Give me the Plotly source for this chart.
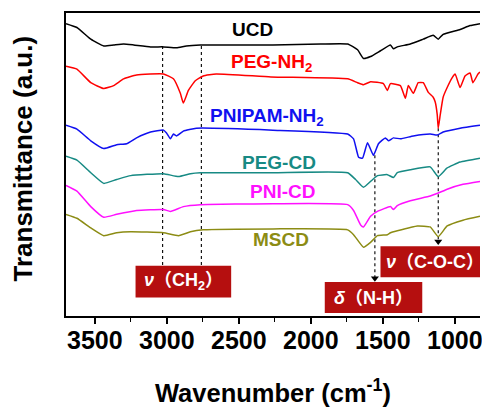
import plotly.graph_objects as go

# ---- data (wavenumber, transmittance a.u.) ----
ucd_wn = [3700, 3624, 3528, 3438, 3369, 3300, 3230, 3113, 3023, 2933, 2864, 2767, 2263, 1931, 1744, 1675,
          1634, 1585, 1516, 1447, 1426, 1399, 1309, 1219, 1150, 1115, 1081, 963, 894, 825]
ucd_t = [302, 298, 286, 279, 280, 281, 280, 278, 278, 277, 279, 280, 280, 281, 281, 275,
         266, 268, 274, 280, 276, 278, 281, 286, 290, 286, 291, 296, 300, 302]

peg_wn = [3700, 3624, 3528, 3438, 3369, 3300, 3210, 3023, 2954, 2906, 2885, 2850, 2802, 2747, 2657, 2277,
          1744, 1675, 1634, 1585, 1496, 1468, 1447, 1378, 1343, 1323, 1288, 1254, 1219, 1184, 1150,
          1136, 1122, 1115, 1101, 1081, 1053, 1019, 998, 963, 929, 894, 874, 839, 825]
peg_t = [258, 255, 241, 235, 238, 245, 249, 250, 245, 230, 220, 233, 243, 248, 250, 247,
         245, 241, 239, 242, 240, 233, 240, 238, 225, 238, 230, 241, 241, 231, 226,
         221, 208, 194, 208, 226, 236, 246, 250, 236, 248, 251, 241, 250, 252]

pni_wn = [3700, 3624, 3528, 3438, 3348, 3279, 3210, 3113, 3023, 3002, 2975, 2954, 2933, 2885, 2795, 2263,
          1744, 1703, 1668, 1641, 1606, 1565, 1530, 1482, 1461, 1426, 1378, 1288, 1171, 1122, 1081, 963, 825]
pni_t = [197, 193, 181, 173, 177, 178, 184, 190, 192, 189, 183, 188, 186, 191, 194, 192,
         188, 183, 164, 163, 179, 166, 178, 184, 181, 184, 183, 186, 188, 187, 190, 194, 197]

pegcd_wn = [3700, 3624, 3528, 3438, 3348, 3251, 3023, 2919, 2836, 2767, 2263, 1744, 1689, 1634, 1585, 1537,
            1468, 1426, 1399, 1309, 1171, 1115, 1053, 963, 825]
pegcd_t = [165, 161, 148, 137, 141, 145, 147, 144, 147, 148, 148, 148, 141, 133, 139, 145,
           146, 143, 148, 151, 154, 144, 153, 159, 163]

pnicd_wn = [3700, 3624, 3528, 3438, 3348, 3210, 3023, 2975, 2885, 2767, 2263, 1744, 1703, 1654, 1634, 1585,
            1537, 1447, 1426, 1399, 1309, 1171, 1115, 1053, 943, 825]
pnicd_t = [135, 129, 113, 102, 105, 109, 110, 108, 113, 115, 116, 115, 109, 94, 92, 103,
           108, 113, 110, 114, 119, 124, 127, 131, 136, 139]

mscd_wn = [3700, 3624, 3528, 3438, 3348, 3251, 3023, 2919, 2836, 2747, 2263, 1744, 1703, 1634, 1585, 1537,
           1468, 1447, 1399, 1260, 1171, 1115, 1053, 943, 825]
mscd_t = [105, 101, 91, 83, 86, 87, 86, 83, 87, 89, 90, 89, 84, 71, 76, 83,
          84, 86, 88, 93, 92, 82, 93, 99, 103]

series_names = ["UCD", "PEG-NH<sub>2</sub>", "PNIPAM-NH<sub>2</sub>", "PEG-CD", "PNI-CD", "MSCD"]
series_colors = ["#000000", "#FF0000", "#1010F0", "#178A84", "#FF10FF", "#8C8C14"]
series_x = [ucd_wn, peg_wn, pni_wn, pegcd_wn, pnicd_wn, mscd_wn]
series_y = [ucd_t, peg_t, pni_t, pegcd_t, pnicd_t, mscd_t]
label_x = [2408, 2270, 2304, 2221, 2200, 2207]
label_y = [296, 261, 206, 159, 129, 79]

x_ticks = [3500, 3000, 2500, 2000, 1500, 1000]

# marker bands
ch2_lines = [3029, 2760]
nh_line = 1555
coc_line = 1115

BOX = "#B50F0F"
FONT = "Liberation Sans, Arial, Noto Sans CJK SC"

fig = go.Figure()

# dotted guide lines
for xv in ch2_lines:
    fig.add_trace(go.Scatter(x=[xv, xv], y=[279, 52], mode="lines",
                             line=dict(color="black", width=1.1, dash="dot"), showlegend=False, hoverinfo="skip"))
fig.add_trace(go.Scatter(x=[nh_line, nh_line], y=[166, 38], mode="lines",
                         line=dict(color="black", width=1.1, dash="dot"), showlegend=False, hoverinfo="skip"))
fig.add_trace(go.Scatter(x=[coc_line, coc_line], y=[194, 76], mode="lines",
                         line=dict(color="black", width=1.1, dash="dot"), showlegend=False, hoverinfo="skip"))
fig.add_trace(go.Scatter(x=[nh_line, coc_line], y=[39, 77], mode="markers",
                         marker=dict(symbol="triangle-down", size=7, color="black"),
                         showlegend=False, hoverinfo="skip"))

for xs, ys, c in zip(series_x, series_y, series_colors):
    fig.add_trace(go.Scatter(x=xs, y=ys, mode="lines", line=dict(color=c, width=1.5, shape="spline", smoothing=0.4),
                             showlegend=False))

for name, c, lx, ly in zip(series_names, series_colors, label_x, label_y):
    fig.add_annotation(x=lx, y=ly, text=name, showarrow=False,
                       font=dict(family=FONT, size=19, color=c, weight="bold"))

# red label boxes
boxes = [
    (3217, 2553, 19, 52),
    (1903, 1226, 3, 35),
    (1516, 600, 40, 72),
]
for x0, x1, y0, y1 in boxes:
    fig.add_shape(type="rect", x0=x0, x1=x1, y0=y0, y1=y1, xref="x", yref="y",
                  fillcolor=BOX, line=dict(width=0), layer="above")

fig.add_annotation(x=2885, y=35.5, text="<i>ν</i>（CH<sub>2</sub>）", showarrow=False,
                   font=dict(family=FONT, size=18, color="white", weight="bold"))
fig.add_annotation(x=1565, y=19, text="<i>δ</i>（N-H）", showarrow=False,
                   font=dict(family=FONT, size=18, color="white", weight="bold"))
fig.add_annotation(x=1490, y=56, text="<i>ν</i>（C-O-C）", showarrow=False, xanchor="left",
                   font=dict(family=FONT, size=18, color="white", weight="bold"))

fig.add_annotation(xref="paper", yref="paper", x=-0.103, y=0.521, text="Transmittance (a.u.)",
                   textangle=-90, showarrow=False, xanchor="center", yanchor="middle",
                   font=dict(family=FONT, size=26, color="black", weight="bold"))

fig.update_layout(
    width=482, height=407,
    margin=dict(l=66, r=0, t=13, b=81),
    paper_bgcolor="white", plot_bgcolor="white",
    xaxis=dict(range=[3700, 825], tickvals=x_ticks, ticktext=[str(v) for v in x_ticks],
               showline=True, linecolor="black", linewidth=1.5, mirror=True,
               ticks="outside", ticklen=6, tickwidth=1.5, tickcolor="black",
               minor=dict(dtick=250, ticks="outside", ticklen=4, tickwidth=1.2, tickcolor="black"),
               showgrid=False, zeroline=False, ticklabelstandoff=-5, ticklabeloverflow="allow",
               tickfont=dict(family=FONT, size=25, color="black", weight="bold"),
               title=dict(text="Wavenumber (cm<sup>-1</sup>)", standoff=35,
                          font=dict(family=FONT, size=25.5, color="black", weight="bold"))),
    yaxis=dict(range=[0, 313], showline=True, linecolor="black", linewidth=1.5,
               showticklabels=False, ticks="", showgrid=False, zeroline=False),
)

fig.write_html("out.html", config={"displayModeBar": False},
               post_script="document.body.style.margin='0';document.body.style.padding='0';")
